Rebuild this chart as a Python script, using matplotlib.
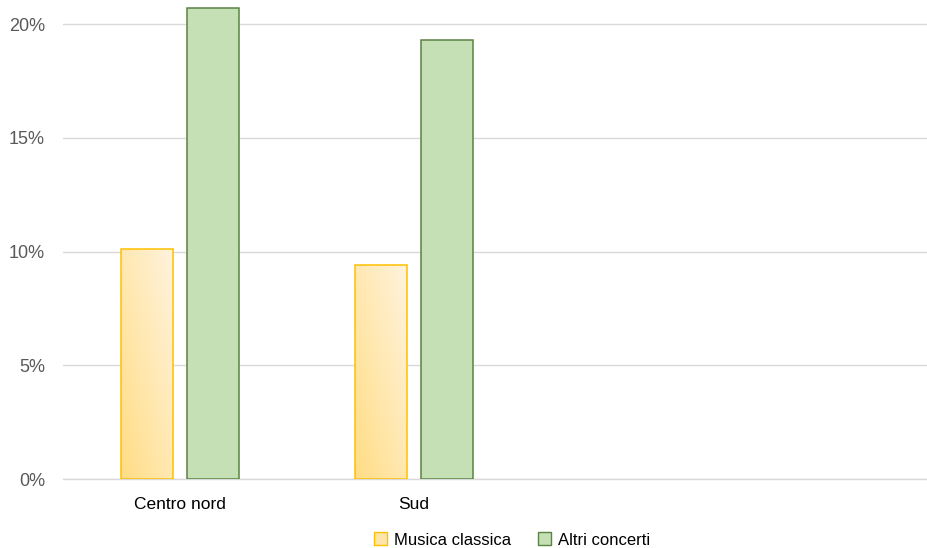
import numpy as np
import matplotlib
matplotlib.use("Agg")
import matplotlib.pyplot as plt
from matplotlib.patches import Patch
from matplotlib.ticker import FuncFormatter

plt.rcParams['font.family'] = ['Liberation Sans', 'DejaVu Sans']

categories = ["Centro nord", "Sud"]
musica_classica = [10.1, 9.4]
altri_concerti = [20.7, 19.3]
yticks = [0, 5, 10, 15, 20]

fig = plt.figure(figsize=(9.28, 5.48), dpi=100)
ax = fig.add_axes([63 / 928, 1 - 479 / 548, 1 - 63 / 928, 479 / 548])

x = np.arange(len(categories))
width = 0.222
offset = 0.143

# Yellow bars with a diagonal gradient fill
bars_y = ax.bar(x - offset, musica_classica, width, facecolor="none",
                edgecolor="#FFC000", linewidth=1.1, zorder=3)
grad = np.zeros((100, 100, 4))
u = np.linspace(0, 1, 100)
xx, yy = np.meshgrid(u, u)
t = np.clip((xx + (1 - yy)) / 2, 0, 1)  # 0 at bottom-left, 1 at top-right
c0 = np.array([255, 221, 133]) / 255
c1 = np.array([255, 243, 222]) / 255
for k in range(3):
    grad[..., k] = c0[k] + (c1[k] - c0[k]) * t
grad[..., 3] = 1
for b in bars_y:
    bx, by = b.get_x(), b.get_y()
    bw, bh = b.get_width(), b.get_height()
    im = ax.imshow(grad, extent=[bx, bx + bw, by, by + bh], origin="upper",
                   aspect="auto", zorder=2)
    im.set_clip_path(b)

ax.bar(x + offset, altri_concerti, width, color="#C5E0B4",
       edgecolor="#5B8343", linewidth=1.1, zorder=3)

ax.set_xlim(-0.5, (928 - 63) / 234 - 0.5)
ax.set_ylim(0, 479 / 113.7 * 5)
ax.set_yticks(yticks)
ax.yaxis.set_major_formatter(FuncFormatter(lambda v, p: f"{v:.0f}%"))
ax.set_xticks(x)
ax.set_xticklabels(categories)

ax.grid(axis="y", color="#D9D9D9", linewidth=1.0, zorder=0)
for s in ["top", "right", "left"]:
    ax.spines[s].set_visible(False)
ax.spines["bottom"].set_color("#D9D9D9")
ax.spines["bottom"].set_linewidth(1.0)
ax.tick_params(axis="y", length=0, labelsize=13, labelcolor="#595959", pad=13)
ax.tick_params(axis="x", length=0, labelsize=12.5, labelcolor="#000000", pad=13)

handles = [Patch(facecolor="#FFE6A8", edgecolor="#FFC000", label="Musica classica"),
           Patch(facecolor="#C5E0B4", edgecolor="#5B8343", label="Altri concerti")]
fig.legend(handles=handles, loc="center", bbox_to_anchor=(512 / 928, 1 - 540 / 548),
           ncol=2, frameon=False, fontsize=12, handlelength=0.8, handleheight=0.8,
           handletextpad=0.4, columnspacing=1.6)

fig.savefig("out.png", dpi=100)
